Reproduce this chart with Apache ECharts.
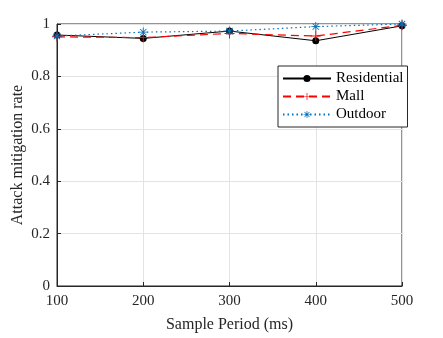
<!DOCTYPE html>
<html><head><meta charset="utf-8">
<script src="https://cdn.jsdelivr.net/npm/echarts@6/dist/echarts.min.js"></script>
<style>html,body{margin:0;padding:0;background:#fff}#c{width:443px;height:338px}</style>
</head><body><div id="c"></div>
<script>
const periods = [100, 200, 300, 400, 500];
const residential = [0.958, 0.945, 0.973, 0.936, 0.993];
const mall = [0.951, 0.948, 0.964, 0.954, 0.995];
const outdoor = [0.954, 0.969, 0.973, 0.990, 1.000];
const seriesNames = ['Residential', 'Mall', 'Outdoor'];

const plusPath = 'path://M-1,-10L1,-10L1,-1L10,-1L10,1L1,1L1,10L-1,10L-1,1L-10,1L-10,-1L-1,-1Z';
const starPath = 'path://M-10,-1L10,-1L10,1L-10,1Z M-1,-10L1,-10L1,10L-1,10Z M-7.7,-6.3L-6.3,-7.7L7.7,6.3L6.3,7.7Z M6.3,-7.7L7.7,-6.3L-6.3,7.7L-7.7,6.3Z';
const font = 'Liberation Serif';
const pair = (arr) => periods.map((p, i) => [p, arr[i]]);

const chart = echarts.init(document.getElementById('c'), null, {renderer: 'canvas'});
chart.setOption({
  animation: false,
  backgroundColor: '#fff',
  grid: {left: 57, right: 41, top: 24, bottom: 52, show: true, borderColor: '#262626', borderWidth: 1,
         backgroundColor: 'transparent', containLabel: false, outerBoundsMode: 'none'},
  xAxis: {
    type: 'value', min: 100, max: 500, interval: 100,
    name: 'Sample Period (ms)', nameLocation: 'middle', nameGap: 31, nameMoveOverlap: false,
    nameTextStyle: {fontFamily: font, fontSize: 16, color: '#262626'},
    axisLine: {show: true, lineStyle: {color: '#262626', width: 1}},
    axisTick: {show: true, inside: true, length: 4, lineStyle: {color: '#262626'}},
    axisLabel: {fontFamily: font, fontSize: 15, color: '#262626', margin: 8},
    splitLine: {show: true, lineStyle: {color: '#e3e3e3', width: 1}}
  },
  yAxis: {
    type: 'value', min: 0, max: 1, interval: 0.2,
    name: 'Attack mitigation rate', nameLocation: 'middle', nameGap: 31, nameRotate: 90, nameMoveOverlap: false,
    nameTextStyle: {fontFamily: font, fontSize: 16, color: '#262626'},
    axisLine: {show: true, lineStyle: {color: '#262626', width: 1}},
    axisTick: {show: true, inside: true, length: 4, lineStyle: {color: '#262626'}},
    axisLabel: {fontFamily: font, fontSize: 15, color: '#262626', margin: 7,
      formatter: v => String(Math.round(v * 10) / 10)},
    splitLine: {show: true, lineStyle: {color: '#e3e3e3', width: 1}}
  },
  legend: {
    orient: 'vertical', left: 278, top: 66,
    data: seriesNames,
    backgroundColor: '#fff', borderColor: '#262626', borderWidth: 1,
    padding: [5, 4, 5, 4], itemGap: 3, itemWidth: 48, itemHeight: 9,
    textStyle: {fontFamily: font, fontSize: 15, color: '#000'}
  },
  series: [
    {name: seriesNames[0], type: 'line', data: pair(residential),
     symbol: 'circle', symbolSize: 7, color: '#000',
     lineStyle: {color: '#000', width: 1}, itemStyle: {color: '#000'}},
    {name: seriesNames[1], type: 'line', data: pair(mall),
     symbol: plusPath, symbolSize: 10, color: '#ff0000',
     lineStyle: {color: '#ff0000', width: 1.2, type: [8, 5]}, itemStyle: {color: '#ff0000'}},
    {name: seriesNames[2], type: 'line', data: pair(outdoor),
     symbol: starPath, symbolSize: 9, color: '#0072BD',
     lineStyle: {color: '#0072BD', width: 1.2, type: [1.5, 3]}, itemStyle: {color: '#0072BD'}}
  ]
});
</script></body></html>
